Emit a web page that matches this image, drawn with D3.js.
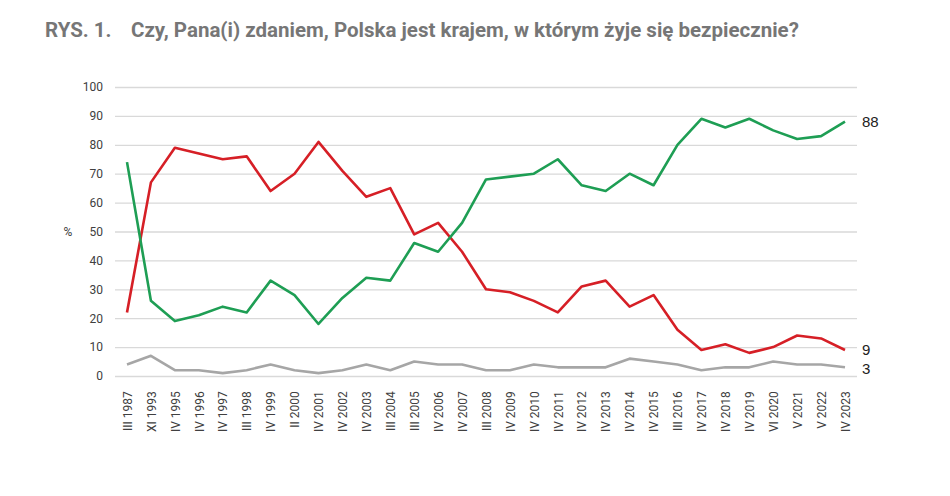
<!DOCTYPE html>
<html><head><meta charset="utf-8">
<script src="https://cdn.jsdelivr.net/npm/d3@7"></script>
<style>body{margin:0;background:#fff;} svg{display:block;}</style>
</head><body><svg id="c" width="950" height="496"></svg>
<script>
const categories = ["III 1987","XI 1993","IV 1995","IV 1996","IV 1997","III 1998","IV 1999","II 2000","IV 2001","IV 2002","IV 2003","III 2004","III 2005","IV 2006","IV 2007","III 2008","IV 2009","IV 2010","IV 2011","IV 2012","IV 2013","IV 2014","IV 2015","III 2016","IV 2017","IV 2018","IV 2019","VI 2020","V 2021","V 2022","IV 2023"];
const safe = [74,26,19,21,24,22,33,28,18,27,34,33,46,43,53,68,69,70,75,66,64,70,66,80,89,86,89,85,82,83,88];
const unsafe = [22,67,79,77,75,76,64,70,81,71,62,65,49,53,43,30,29,26,22,31,33,24,28,16,9,11,8,10,14,13,9];
const hard = [4,7,2,2,1,2,4,2,1,2,4,2,5,4,4,2,2,4,3,3,3,6,5,4,2,3,3,5,4,4,3];
const yTicks = [0,10,20,30,40,50,60,70,80,90,100];

const svg = d3.select("#c");
const font = "Roboto, 'Liberation Sans', Arial, sans-serif";
const lblFont = "'Liberation Sans', Arial, sans-serif";

svg.append("text").attr("x",45).attr("y",37).attr("font-family",font).attr("font-weight","bold")
  .attr("font-size",20.5).attr("fill","#767676").text("RYS. 1.");
svg.append("text").attr("x",131).attr("y",37).attr("font-family",font).attr("font-weight","bold")
  .attr("font-size",20.5).attr("fill","#767676").text("Czy, Pana(i) zdaniem, Polska jest krajem, w którym żyje się bezpiecznie?");

const x = d3.scalePoint().domain(categories).range([127,845]);
const y = d3.scaleLinear().domain([0,100]).range([376,87]);

const yAxis = svg.append("g").attr("transform","translate(115,0)")
  .call(d3.axisLeft(y).tickValues(yTicks).tickSize(-742).tickPadding(12));
yAxis.select(".domain").remove();
yAxis.selectAll(".tick line").attr("stroke","#d9d9d9").attr("stroke-width",1.3);
yAxis.selectAll(".tick text").attr("font-family",font).attr("font-size",12).attr("fill","#404040");

svg.append("text").attr("x",68).attr("y",236).attr("text-anchor","middle").attr("font-family",font)
  .attr("font-size",12).attr("fill","#404040").text("%");

const xAxis = svg.append("g").attr("transform","translate(0,384)")
  .call(d3.axisBottom(x).tickSize(0).tickPadding(0));
xAxis.select(".domain").remove();
xAxis.selectAll(".tick text").attr("font-family",font).attr("font-size",12).attr("fill","#404040")
  .attr("text-anchor","end").attr("transform","rotate(-90)").attr("dx","-0.6em").attr("dy","0.35em").attr("x",0).attr("y",0);

const line = d3.line().x((d,i)=>x(categories[i])).y(d=>y(d));
[[hard,"#a6a6a6"],[unsafe,"#d61f26"],[safe,"#1e9e54"]].forEach(([s,c])=>{
  svg.append("path").datum(s).attr("d",line).attr("fill","none").attr("stroke",c)
    .attr("stroke-width",2.6).attr("stroke-linejoin","round");
});

const last = categories.length-1;
[[safe[last],0],[unsafe[last],0],[hard[last],1.5]].forEach(([v,o])=>{
  svg.append("text").attr("x",862).attr("y",y(v)+o).attr("dy","0.35em").attr("font-family",lblFont)
    .attr("font-size",15).attr("fill","#222").text(v);
});
</script></body></html>
